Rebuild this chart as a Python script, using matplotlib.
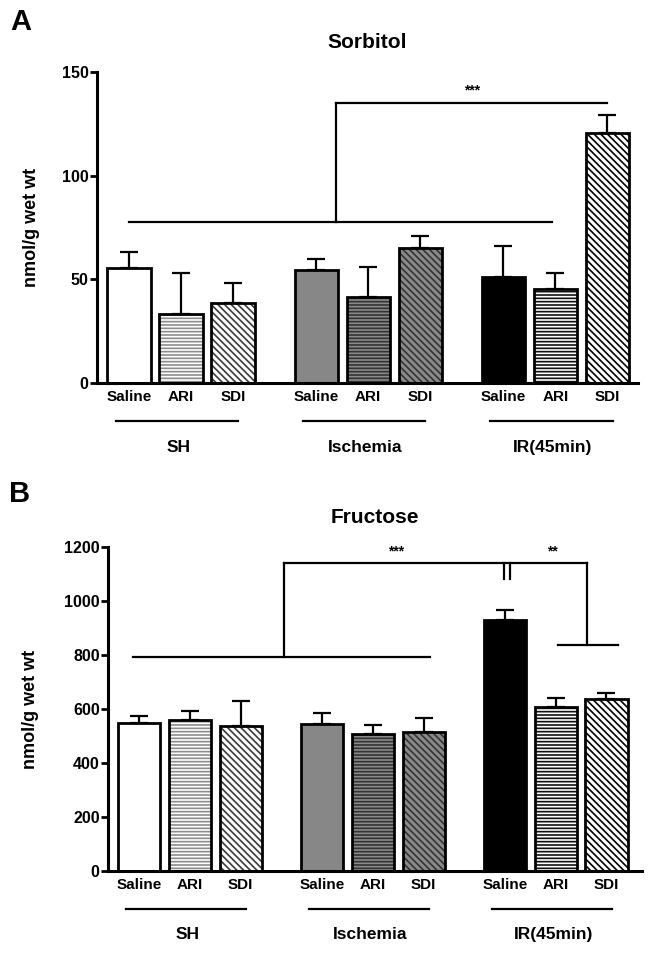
import numpy as np
import matplotlib
matplotlib.use("Agg")
import matplotlib.pyplot as plt

plt.rcParams['font.family'] = ['Liberation Sans', 'DejaVu Sans']
plt.rcParams['hatch.linewidth'] = 1.2

# ---------------- data ----------------
treatments = ['Saline', 'ARI', 'SDI']
groups = ['SH', 'Ischemia', 'IR(45min)']

sorbitol_mean = [55.5, 33.3, 38.6, 54.5, 41.5, 65.0, 51.1, 45.5, 120.6]
sorbitol_err = [7.7, 19.7, 9.6, 5.5, 14.5, 6.0, 15.0, 7.5, 8.7]

fructose_mean = [547, 559, 537, 544, 507, 515, 930, 609, 636]
fructose_err = [27, 32, 93, 42, 35, 50, 37, 33, 24]

# fill colour, hatch, hatch colour for each of the 9 bars
bar_fill = ['white', 'white', 'white', '#878787', '#8a8a8a', '#8a8a8a', 'black', 'white', 'white']
bar_hatch = [None, '-----', '\\\\\\\\\\', None, '-----', '\\\\\\\\\\', None, '-----', '\\\\\\\\\\']
hatch_col = [None, '#8c8c8c', '#3a3a3a', None, '#333333', '#333333', None, '#111111', '#000000']

group_gap = 3.6
pos = np.array([g * group_gap + t for g in range(3) for t in range(3)])
width = 0.83

fig = plt.figure(figsize=(6.58, 9.59), dpi=100)
axA = fig.add_axes([0.1474, 0.6006, 0.8222, 0.3243])
axB = fig.add_axes([0.1641, 0.0918, 0.8116, 0.3378])


def draw_panel(ax, means, errs, ylim, yticks, title, ax_h_px, lpad):
    for i in range(9):
        if bar_hatch[i]:
            ax.bar(pos[i], means[i], width, color=bar_fill[i], edgecolor=hatch_col[i],
                   hatch=bar_hatch[i], linewidth=0, zorder=2)
            ax.bar(pos[i], means[i], width, fill=False, edgecolor='black', linewidth=2, zorder=3)
        else:
            ax.bar(pos[i], means[i], width, color=bar_fill[i], edgecolor='black',
                   linewidth=2, zorder=2)
    ax.errorbar(pos, means, yerr=[np.zeros(9), errs], fmt='none', ecolor='black',
                elinewidth=1.6, capsize=6.5, capthick=1.6, zorder=1)

    ax.set_ylim(*ylim)
    ax.set_yticks(yticks)
    ax.set_xticks(pos)
    ax.set_xticklabels(treatments * 3, fontsize=11, fontweight='bold')
    for lab in ax.get_yticklabels():
        lab.set_fontweight('bold')
        lab.set_fontsize(11.5)
    ax.tick_params(axis='x', length=0, pad=5)
    ax.tick_params(axis='y', length=5, width=2, pad=1)
    for s in ['top', 'right']:
        ax.spines[s].set_visible(False)
    for s in ['left', 'bottom']:
        ax.spines[s].set_linewidth(2.2)
    ax.set_ylabel('nmol/g wet wt', fontsize=13, fontweight='bold', labelpad=lpad)
    ax.text(0.5, 1 + 30 / ax_h_px, title, transform=ax.transAxes, ha='center',
            va='center', fontsize=15, fontweight='bold')

    # group lines and labels under the tick labels
    tr = ax.get_xaxis_transform()
    for g in range(3):
        x0 = g * group_gap
        ax.plot([x0 - 0.25, x0 + 2.1], [-38 / ax_h_px] * 2, color='black', lw=1.6,
                transform=tr, clip_on=False)
        ax.text(x0 + 0.95, -64 / ax_h_px, groups[g], transform=tr, ha='center',
                va='center', fontsize=12.5, fontweight='bold')


draw_panel(axA, sorbitol_mean, sorbitol_err, (0, 150), [0, 50, 100, 150], 'Sorbitol', 311, 16)
draw_panel(axB, fructose_mean, fructose_err, (0, 1200), [0, 200, 400, 600, 800, 1000, 1200],
           'Fructose', 324, 18)
axA.set_xlim(-0.615, 9.79)
axB.set_xlim(-0.614, 9.9)

lk = dict(color='black', lw=1.6, clip_on=False)

# ---- significance brackets, panel A
axA.plot([pos[0], pos[7] - 0.07], [77.7, 77.7], **lk)
axA.plot([3.98, 3.98], [77.7, 135], **lk)
axA.plot([3.98, pos[8]], [135, 135], **lk)
axA.text(6.6, 139, '***', ha='center', va='baseline', fontsize=10, fontweight='bold')

# ---- significance brackets, panel B
axB.plot([-0.12, pos[5] + 0.12], [791, 791], **lk)
axB.plot([2.85, 2.85], [791, 1141], **lk)
axB.plot([2.85, 8.82], [1141, 1141], **lk)
axB.plot([7.18, 7.18], [1141, 1081], **lk)
axB.plot([7.31, 7.31], [1141, 1081], **lk)
axB.plot([8.82, 8.82], [1141, 837], **lk)
axB.plot([pos[7] + 0.04, pos[8] + 0.23], [837, 837], **lk)
axB.text(5.05, 1167, '***', ha='center', va='baseline', fontsize=10, fontweight='bold')
axB.text(8.14, 1167, '**', ha='center', va='baseline', fontsize=10, fontweight='bold')

fig.text(21 / 658, 1 - 22 / 959, 'A', ha='center', va='center', fontsize=21, fontweight='bold')
fig.text(20 / 658, 1 - 494 / 959, 'B', ha='center', va='center', fontsize=21, fontweight='bold')

fig.savefig('out.png', dpi=100)
